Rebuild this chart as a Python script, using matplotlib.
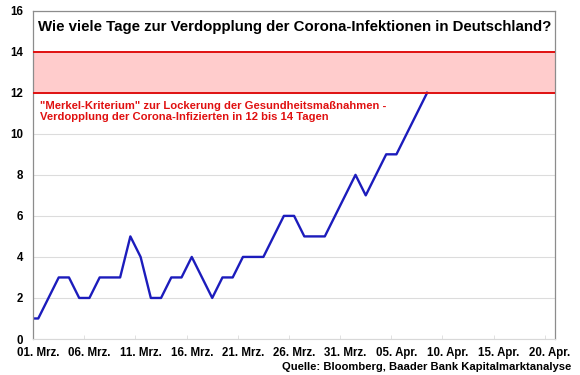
import numpy as np
import pandas as pd
import matplotlib
matplotlib.use("Agg")
import matplotlib.pyplot as plt

plt.rcParams["font.family"] = ["Liberation Sans", "DejaVu Sans"]

# Doubling time in days, 29 Feb .. 08 Apr 2020
dates = pd.date_range("2020-02-29", "2020-04-08", freq="D")
doubling_days = [1, 1, 2, 3, 3, 2, 2, 3, 3, 3, 5, 4, 2, 2, 3, 3, 4, 3, 2, 3,
                 3, 4, 4, 4, 5, 6, 6, 5, 5, 5, 6, 7, 8, 7, 8, 9, 9, 10, 11, 12]

band_low = 12
band_high = 14

tick_dates = pd.date_range("2020-03-01", "2020-04-20", freq="5D")
tick_labels = ["01. Mrz.", "06. Mrz.", "11. Mrz.", "16. Mrz.", "21. Mrz.", "26. Mrz.",
               "31. Mrz.", "05. Apr.", "10. Apr.", "15. Apr.", "20. Apr."]
y_ticks = [0, 2, 4, 6, 8, 10, 12, 14, 16]

title = "Wie viele Tage zur Verdopplung der Corona-Infektionen in Deutschland?"
note = ('"Merkel-Kriterium" zur Lockerung der Gesundheitsmaßnahmen -\n'
        'Verdopplung der Corona-Infizierten in 12 bis 14 Tagen')
source = "Quelle: Bloomberg, Baader Bank Kapitalmarktanalyse"

fig = plt.figure(figsize=(5.8, 3.75), dpi=100)
ax = fig.add_axes([0.0564, 0.096, 0.9006, 0.8755])

x0 = pd.Timestamp("2020-03-01")
ax.set_xlim(x0 - pd.Timedelta(hours=13), pd.Timestamp("2020-04-20") + pd.Timedelta(hours=12))
ax.set_ylim(0, 16)

# Merkel band
ax.axhspan(band_low, band_high, color="#ffcccc", zorder=1, lw=0)
ax.axhline(band_low, color="#e01010", lw=1.4, zorder=3)
ax.axhline(band_high, color="#e01010", lw=1.4, zorder=3)

ax.plot(dates, doubling_days, color="#1c1cbc", lw=1.7, zorder=2)

ax.set_yticks(y_ticks)
ax.set_yticklabels([str(v) for v in y_ticks], fontweight="bold", fontsize=8.3)
ax.yaxis.grid(True, color="#dcdcdc", lw=0.8)
ax.set_axisbelow(True)
ax.tick_params(axis="y", length=0, pad=7)

ax.set_xticks(tick_dates)
ax.set_xticklabels(tick_labels, fontweight="bold", fontsize=8.3)
ax.tick_params(axis="x", length=0, pad=6)
ax.set_xticks(tick_dates - pd.Timedelta(hours=12), minor=True)
ax.tick_params(axis="x", which="minor", length=3, color="#dcdcdc", direction="in")

for s in ["left", "right", "top"]:
    ax.spines[s].set_color("#8c8c8c")
    ax.spines[s].set_linewidth(0.9)
ax.spines["bottom"].set_color("#d8d8d8")

ax.text(0.01, 0.95, title, transform=ax.transAxes, fontsize=10.8,
        fontweight="bold", va="center", ha="left")
ax.text(0.014, 0.693, note, transform=ax.transAxes, fontsize=8.1,
        fontweight="bold", color="#e01010", va="center", ha="left", linespacing=1.12)
fig.text(0.985, 0.022, source, fontsize=8.1, fontweight="bold", ha="right", va="center")

fig.savefig("out.png", dpi=100)
